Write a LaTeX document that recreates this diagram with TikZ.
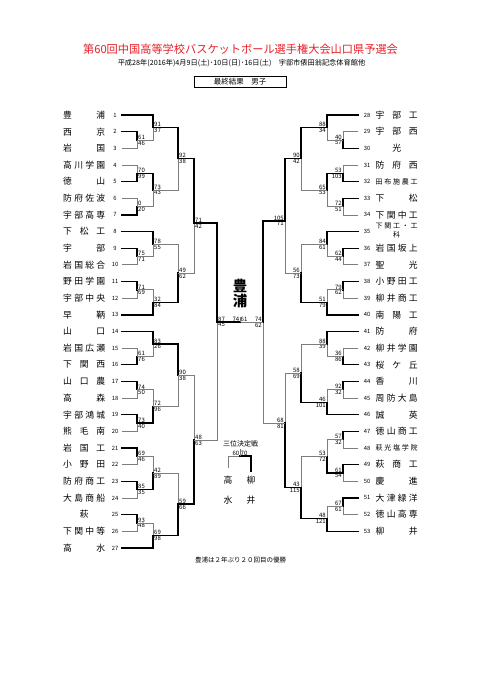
\documentclass[tikz,border=0pt]{standalone}
\usepackage{fontspec}
\setmainfont{Noto Sans CJK JP}
\usetikzlibrary{calc}
\definecolor{titlered}{RGB}{232,32,40}
\definecolor{losegray}{RGB}{125,125,125}
\tikzset{
  win/.style={draw=black,line width=1.4pt,line cap=rect},
  lose/.style={draw=losegray,line width=0.75pt},
  score/.style={font=\fontsize{6}{6.5}\selectfont,inner sep=0.5pt},
  num/.style={font=\fontsize{5.8}{6}\selectfont,inner sep=0pt},
  team/.style={font=\fontsize{8.8}{9}\selectfont,inner sep=0pt,anchor=west},
}
\newcommand\tn[1]{\makebox[42pt][s]{#1}}
\newcommand\jmid[4]{\path let \p1=(#2),\p2=(#3) in (#4pt,{(\y1+\y2)/2}) coordinate (#1);}
\newcommand\LD[6]{%
  \ifnum#6=1 \draw[lose] (#3) -| (#1); \draw[win] (#2) -| (#1);
  \else \draw[lose] (#2) -| (#1); \draw[win] (#3) -| (#1); \fi
  \node[score,anchor=south west,xshift=0.5pt] (#1-u) at (#1) {#4};
  \node[score,anchor=north west,xshift=0.5pt] (#1-d) at (#1) {#5};}
\newcommand\RD[6]{%
  \ifnum#6=1 \draw[lose] (#3) -| (#1); \draw[win] (#2) -| (#1);
  \else \draw[lose] (#2) -| (#1); \draw[win] (#3) -| (#1); \fi
  \node[score,anchor=south east,xshift=-0.5pt] (#1-u) at (#1) {#4};
  \node[score,anchor=north east,xshift=-0.5pt] (#1-d) at (#1) {#5};}
\newcommand\Lm[7]{\jmid{#1}{#2}{#3}{#4}\LD{#1}{#2}{#3}{#5}{#6}{#7}}
\newcommand\Rm[7]{\jmid{#1}{#2}{#3}{#4}\RD{#1}{#2}{#3}{#5}{#6}{#7}}
\begin{document}
\begin{tikzpicture}[x=1pt,y=-1pt]
\useasboundingbox (0,0) rectangle (481,680);
\fill[white] (0,0) rectangle (481,680);
% header
\node[font=\fontsize{11.2}{12}\selectfont,text=titlered,inner sep=0] (title) at (240.5,49.5) {第60回中国高等学校バスケットボール選手権大会山口県予選会};
\node[font=\fontsize{7.2}{8}\selectfont,inner sep=0] (sub) at (241.5,63.5) {平成28年(2016年)4月9日(土)･10日(日)･16日(土)　宇部市俵田翁記念体育館他};
\node[draw,line width=0.6pt,minimum width=92pt,minimum height=10.5pt,inner sep=0,font=\fontsize{7.5}{8}\selectfont] (box) at (240,82) {最終結果　男子};
% left teams
\foreach \i/\nm in {1/豊\hfill 浦,2/西\hfill 京,3/岩\hfill 国,4/高\hfill 川\hfill 学\hfill 園,5/徳\hfill 山,6/防\hfill 府\hfill 佐\hfill 波,7/宇\hfill 部\hfill 高\hfill 専,8/下\hfill 松\hfill 工,9/宇\hfill 部,10/岩\hfill 国\hfill 総\hfill 合,11/野\hfill 田\hfill 学\hfill 園,12/宇\hfill 部\hfill 中\hfill 央,13/早\hfill 鞆,14/山\hfill 口,15/岩\hfill 国\hfill 広\hfill 瀬,16/下\hfill 関\hfill 西,17/山\hfill 口\hfill 農,18/高\hfill 森,19/宇\hfill 部\hfill 鴻\hfill 城,20/熊\hfill 毛\hfill 南,21/岩\hfill 国\hfill 工,22/小\hfill 野\hfill 田,23/防\hfill 府\hfill 商\hfill 工,24/大\hfill 島\hfill 商\hfill 船,25/\hfill 萩\hfill,26/下\hfill 関\hfill 中\hfill 等,27/高\hfill 水}{
  \node[team] (n\i) at (63,{115+(\i-1)*16.65}) {\tn{\nm}};
  \node[num] (k\i) at (115,{115+(\i-1)*16.65}) {\i};
  \coordinate (t\i) at (122,{115+(\i-1)*16.65});
}
% right teams
\foreach \i in {28,...,53}{
  \node[num] (k\i) at (367,{115+(\i-28)*16.65}) {\i};
  \coordinate (t\i) at (358,{115+(\i-28)*16.65});
}
\foreach \i/\nm in {28/宇\hfill 部\hfill 工,29/宇\hfill 部\hfill 西,30/\hfill 光\hfill,31/防\hfill 府\hfill 西,32/{\fontsize{7}{7}\selectfont 田\hfill 布\hfill 施\hfill 農\hfill 工},33/下\hfill 松,34/下\hfill 関\hfill 中\hfill 工,36/岩\hfill 国\hfill 坂\hfill 上,37/聖\hfill 光,38/小\hfill 野\hfill 田\hfill 工,39/柳\hfill 井\hfill 商\hfill 工,40/南\hfill 陽\hfill 工,41/防\hfill 府,42/柳\hfill 井\hfill 学\hfill 園,43/桜\hfill ケ\hfill 丘,44/香\hfill 川,45/周\hfill 防\hfill 大\hfill 島,46/誠\hfill 英,47/徳\hfill 山\hfill 商\hfill 工,48/{\fontsize{7}{7}\selectfont 萩\hfill 光\hfill 塩\hfill 学\hfill 院},49/萩\hfill 商\hfill 工,50/慶\hfill 進,51/大\hfill 津\hfill 緑\hfill 洋,52/徳\hfill 山\hfill 高\hfill 専,53/柳\hfill 井}{
  \node[team] (n\i) at (375.5,{115+(\i-28)*16.65}) {\tn{\nm}};
}
\node[team,font=\fontsize{7}{8.5}\selectfont,align=center] (n35) at (375.5,230.5) {\tn{下\hfill 関\hfill 工\hfill ・\hfill 工}\\科};
% left bracket
\Lm{m23}{t2}{t3}{137}{61}{46}{1}
\Lm{m13}{t1}{m23}{153}{91}{37}{1}
\Lm{m45}{t4}{t5}{137}{70}{99}{2}
\Lm{m67}{t6}{t7}{137}{0}{20}{2}
\Lm{m47}{m45}{m67}{153}{73}{43}{1}
\Lm{q1}{m13}{m47}{178}{92}{38}{1}
\Lm{m910}{t9}{t10}{137}{75}{71}{1}
\Lm{m810}{t8}{m910}{153}{78}{55}{1}
\Lm{m1112}{t11}{t12}{137}{71}{69}{1}
\Lm{m1113}{m1112}{t13}{153}{32}{84}{2}
\Lm{q2}{m810}{m1113}{178}{49}{62}{2}
\coordinate (h1) at (194,223);
\LD{h1}{q1}{q2}{71}{42}{1}
\Lm{m1516}{t15}{t16}{137}{61}{76}{2}
\Lm{m1416}{t14}{m1516}{153}{83}{26}{1}
\Lm{m1718}{t17}{t18}{137}{74}{50}{1}
\Lm{m1920}{t19}{t20}{137}{73}{40}{1}
\Lm{m1720}{m1718}{m1920}{153}{72}{96}{2}
\Lm{q3}{m1416}{m1720}{178}{90}{38}{1}
\Lm{m2122}{t21}{t22}{137}{69}{46}{1}
\Lm{m2324}{t23}{t24}{137}{85}{35}{1}
\Lm{m2124}{m2122}{m2324}{153}{42}{89}{2}
\Lm{m2526}{t25}{t26}{137}{93}{48}{1}
\Lm{m2527}{m2526}{t27}{153}{69}{98}{2}
\Lm{q4}{m2124}{m2527}{178}{59}{66}{2}
\coordinate (h2) at (194,440);
\LD{h2}{q3}{q4}{48}{63}{2}
% right bracket
\Rm{r2930}{t29}{t30}{343}{40}{57}{2}
\Rm{r2830}{t28}{r2930}{327}{88}{34}{1}
\Rm{r3132}{t31}{t32}{343}{53}{103}{2}
\Rm{r3334}{t33}{t34}{343}{72}{51}{1}
\Rm{r3134}{r3132}{r3334}{327}{65}{53}{1}
\Rm{p1}{r2830}{r3134}{301}{90}{42}{1}
\Rm{r3637}{t36}{t37}{343}{62}{44}{1}
\Rm{r3537}{t35}{r3637}{327}{84}{61}{1}
\Rm{r3839}{t38}{t39}{343}{79}{62}{1}
\Rm{r3840}{r3839}{t40}{327}{51}{79}{2}
\Rm{p2}{r3537}{r3840}{301}{56}{73}{2}
\coordinate (g1) at (285,221);
\RD{g1}{p1}{p2}{105}{71}{1}
\Rm{r4243}{t42}{t43}{343}{36}{86}{2}
\Rm{r4143}{t41}{r4243}{327}{88}{39}{1}
\Rm{r4445}{t44}{t45}{343}{92}{32}{1}
\Rm{r4446}{r4445}{t46}{327}{46}{101}{2}
\Rm{p3}{r4143}{r4446}{301}{58}{69}{2}
\Rm{r4748}{t47}{t48}{343}{57}{32}{1}
\Rm{r4950}{t49}{t50}{343}{61}{54}{1}
\Rm{r4750}{r4748}{r4950}{327}{53}{72}{2}
\Rm{r5152}{t51}{t52}{343}{67}{61}{1}
\Rm{r5153}{r5152}{t53}{327}{48}{121}{2}
\Rm{p4}{r4750}{r5153}{301}{43}{115}{2}
\coordinate (g2) at (285,423);
\RD{g2}{p3}{p4}{68}{81}{2}
% semifinals and final
\coordinate (sL) at (217,322);
\coordinate (sR) at (263,322);
\coordinate (fc) at (240,322);
\coordinate (ft) at (240,316.5);
\LD{sL}{h1}{h2}{87}{45}{1}
\RD{sR}{g1}{g2}{74}{62}{1}
\draw[lose] (sR) -- (fc);
\draw[win] (sL) -- (fc);
\draw[lose] (fc) -- (ft);
\node[score,anchor=south east] (f-l) at (fc) {74};
\node[score,anchor=south west] (f-r) at (fc) {61};
\node[font=\fontsize{14.5}{15}\selectfont\bfseries,inner sep=0] (ch1) at (240,286) {豊};
\node[font=\fontsize{14.5}{15}\selectfont\bfseries,inner sep=0] (ch2) at (240,301) {浦};
% third place
\node[font=\fontsize{7}{8}\selectfont,inner sep=0] (tp) at (240.5,444) {三位決定戦};
\coordinate (c3) at (240,456);
\coordinate (c3t) at (240,448.5);
\coordinate (c3l) at (228,468);
\coordinate (c3r) at (251,471);
\draw[lose] (c3l) |- (c3);
\draw[win] (c3r) |- (c3);
\draw[lose] (c3) -- (c3t);
\node[score,anchor=south east] (c3-l) at (c3) {60};
\node[score,anchor=south west] (c3-r) at (c3) {70};
\node[font=\fontsize{8.8}{9}\selectfont,inner sep=0] (tpa) at (228,480.5) {高};
\node[font=\fontsize{8.8}{9}\selectfont,inner sep=0] (tpb) at (228,500.5) {水};
\node[font=\fontsize{8.8}{9}\selectfont,inner sep=0] (tpc) at (251,480.5) {柳};
\node[font=\fontsize{8.8}{9}\selectfont,inner sep=0] (tpd) at (251,500.5) {井};
% note
\node[font=\fontsize{6.5}{7}\selectfont,inner sep=0,anchor=west] (note) at (195,560) {豊浦は２年ぶり２０回目の優勝};
\end{tikzpicture}
\end{document}
